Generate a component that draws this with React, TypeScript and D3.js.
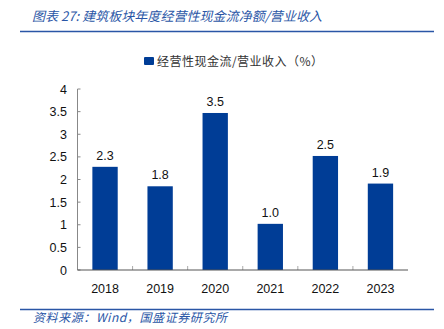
import React from "react";
import * as d3 from "d3";

const categories = ["2018", "2019", "2020", "2021", "2022", "2023"];
const values = [2.28, 1.85, 3.47, 1.02, 2.52, 1.91];
const valueLabels = ["2.3", "1.8", "3.5", "1.0", "2.5", "1.9"];
const yTicks = [0, 0.5, 1, 1.5, 2, 2.5, 3, 3.5, 4];
const seriesName = "经营性现金流/营业收入（%）";
const title = "图表 27:  建筑板块年度经营性现金流净额/营业收入";
const source = "资料来源：Wind，国盛证券研究所";

export default function App() {
  const W = 444, H = 329;
  const left = 77.5, right = 408, top = 89, bottom = 270;
  const x = d3.scaleBand<string>().domain(categories).range([left, right]).paddingInner(0.54).paddingOuter(0.27);
  const xb = d3.scaleBand<string>().domain(categories).range([left, right]);
  const y = d3.scaleLinear().domain([0, 4]).range([bottom, top]);
  const blue = "#003d96";
  const font = "'Liberation Sans', Arial, sans-serif";
  const cjk = "'Noto Sans CJK SC', sans-serif";
  return (
    <svg width={W} height={H} style={{ position: "absolute", left: 0, top: 0, background: "#fff" }}>
      <text x={32} y={21} fontFamily={cjk} fontSize={13} fontStyle="italic" fill="#2a56a6" textLength={290} lengthAdjust="spacing">{title}</text>
      <line x1={20} x2={434} y1={31.5} y2={31.5} stroke="#2a56a6" strokeWidth={1.5} />
      <rect x={144} y={57} width={10} height={8} fill={blue} rx={1} />
      <text x={157} y={66} fontFamily={cjk} fontSize={12} fill="#333" textLength={166} lengthAdjust="spacing">{seriesName}</text>
      <line x1={left} x2={left} y1={top} y2={bottom} stroke="#888" strokeWidth={1} />
      {yTicks.map((t) => (
        <g key={t}>
          <line x1={left} x2={left + 3} y1={y(t)} y2={y(t)} stroke="#888" />
          <text x={67} y={y(t) + 4.5} textAnchor="end" fontFamily={font} fontSize={12.5} fill="#111">{t}</text>
        </g>
      ))}
      {categories.map((c, i) => (
        <g key={c}>
          <rect x={x(c)} y={y(values[i])} width={x.bandwidth()} height={bottom - y(values[i])} fill={blue} />
          <text x={x(c)! + x.bandwidth() / 2} y={y(values[i]) - 7} textAnchor="middle" fontFamily={font} fontSize={12.5} fill="#111">{valueLabels[i]}</text>
          <text x={xb(c)! + xb.bandwidth() / 2} y={293} textAnchor="middle" fontFamily={font} fontSize={12.5} fill="#111">{c}</text>
          {i > 0 && <line x1={xb(c)} x2={xb(c)} y1={bottom} y2={bottom - 4} stroke="#aaa" />}
        </g>
      ))}
      <line x1={left} x2={right} y1={bottom} y2={bottom} stroke="#555" strokeWidth={1} />
      <line x1={20} x2={434} y1={309.5} y2={309.5} stroke="#2a56a6" strokeWidth={1.5} />
      <text x={33} y={322} fontFamily={cjk} fontSize={12} fontStyle="italic" fill="#2a56a6" textLength={194} lengthAdjust="spacing">{source}</text>
    </svg>
  );
}
